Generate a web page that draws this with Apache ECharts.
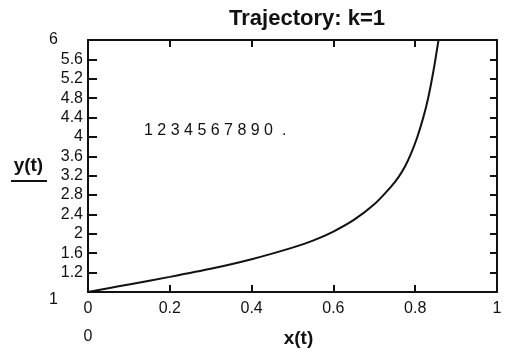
<!DOCTYPE html>
<html>
<head>
<meta charset="utf-8">
<script src="https://cdn.jsdelivr.net/npm/echarts@6/dist/echarts.min.js"></script>
<style>
  html, body { margin: 0; padding: 0; background: #fff; }
  #chart { width: 507px; height: 358px; }
</style>
</head>
<body>
<div id="chart"></div>
<script>
// trajectory points
const xValues = [0, 0.05, 0.1, 0.2, 0.3, 0.4, 0.5, 0.55, 0.6, 0.65, 0.7, 0.74, 0.76, 0.775, 0.79, 0.805, 0.82, 0.832, 0.846, 0.857];
const yValues = [1, 1.075, 1.15, 1.3, 1.46, 1.65, 1.88, 2.02, 2.2, 2.43, 2.74, 3.08, 3.29, 3.49, 3.75, 4.07, 4.47, 4.86, 5.45, 6.0];

// y tick labels as printed (13 equal steps between the limits)
const yTickLabels = ["1.2", "1.6", "2", "2.4", "2.8", "3.2", "3.6", "4", "4.4", "4.8", "5.2", "5.6"];
const yTickSteps = yTickLabels.length + 1;

const xLimits = [0, 1];
const yLimits = [1, 6];
const stray = "1 2 3 4 5 6 7 8 9 0  .";

const font = "Liberation Sans";
const ink = "#111";

const chart = echarts.init(document.getElementById("chart"), null, { renderer: "canvas" });

const line = { show: true, onZero: false, lineStyle: { color: ink, width: 2 } };
const noLine = { show: false, onZero: false };
const tick = (len) => ({ show: true, inside: true, length: len, lineStyle: { color: ink, width: 2 } });

chart.setOption({
  backgroundColor: "#fff",
  animation: false,
  title: {
    text: "Trajectory: k=1",
    left: 302,
    top: 3,
    textAlign: "center",
    textStyle: { fontFamily: font, fontWeight: "bold", fontSize: 22, color: ink },
  },
  grid: { left: 88, top: 40, width: 409, height: 252, containLabel: false, outerBoundsMode: "none" },
  graphic: [
    {
      type: "text",
      left: 144,
      top: 123,
      style: { text: stray, fontFamily: font, fontSize: 16, fill: ink },
    },
    {
      type: "line",
      shape: { x1: 11, y1: 181, x2: 47, y2: 181 },
      style: { stroke: ink, lineWidth: 2 },
    },
  ],
  xAxis: [
    {
      type: "value",
      min: xLimits[0],
      max: xLimits[1],
      interval: 0.2,
      axisLine: line,
      axisTick: tick(7),
      splitLine: { show: false },
      axisLabel: { color: ink, fontFamily: font, fontSize: 16, margin: 9 },
      name: "x(t)",
      nameLocation: "middle",
      nameGap: 37,
      nameTextStyle: { fontFamily: font, fontWeight: "bold", fontSize: 19, color: ink, padding: [0, 0, 0, 12] },
    },
    {
      type: "value",
      position: "bottom",
      min: xLimits[0],
      max: xLimits[1],
      axisLine: noLine,
      axisTick: { show: false },
      splitLine: { show: false },
      axisLabel: {
        color: ink, fontFamily: font, fontSize: 16, margin: 37,
        formatter: (v) => (v === xLimits[0] ? String(v) : ""),
      },
    },
    {
      type: "value",
      position: "top",
      min: xLimits[0],
      max: xLimits[1],
      interval: 0.2,
      axisLine: line,
      axisTick: tick(7),
      splitLine: { show: false },
      axisLabel: { show: false },
    },
  ],
  yAxis: [
    {
      type: "value",
      position: "left",
      min: yLimits[0],
      max: yLimits[1],
      interval: 1,
      axisLine: noLine,
      axisTick: { show: false },
      splitLine: { show: false },
      axisLabel: {
        color: ink, fontFamily: font, fontSize: 16, margin: 30,
        showMinLabel: true, showMaxLabel: true,
        verticalAlignMinLabel: "top",
        formatter: (v) => (v === yLimits[0] || v === yLimits[1] ? String(v) : ""),
      },
      name: "y(t)",
      nameLocation: "middle",
      nameRotate: 0,
      nameGap: 41,
      nameTextStyle: { fontFamily: font, fontWeight: "bold", fontSize: 19, color: ink, padding: [0, 0, 6, 0] },
    },
    {
      type: "value",
      position: "left",
      min: 0,
      max: yTickSteps,
      interval: 1,
      axisLine: line,
      axisTick: tick(9),
      splitLine: { show: false },
      axisLabel: {
        color: ink, fontFamily: font, fontSize: 16, margin: 5,
        formatter: (v) => yTickLabels[v - 1] || "",
      },
    },
    {
      type: "value",
      position: "right",
      min: 0,
      max: yTickSteps,
      interval: 1,
      axisLine: line,
      axisTick: tick(7),
      splitLine: { show: false },
      axisLabel: { show: false },
    },
  ],
  series: [
    {
      type: "line",
      xAxisIndex: 0,
      yAxisIndex: 0,
      data: xValues.map((x, i) => [x, yValues[i]]),
      showSymbol: false,
      smooth: 0.2,
      lineStyle: { color: ink, width: 2 },
    },
  ],
});
</script>
</body>
</html>
